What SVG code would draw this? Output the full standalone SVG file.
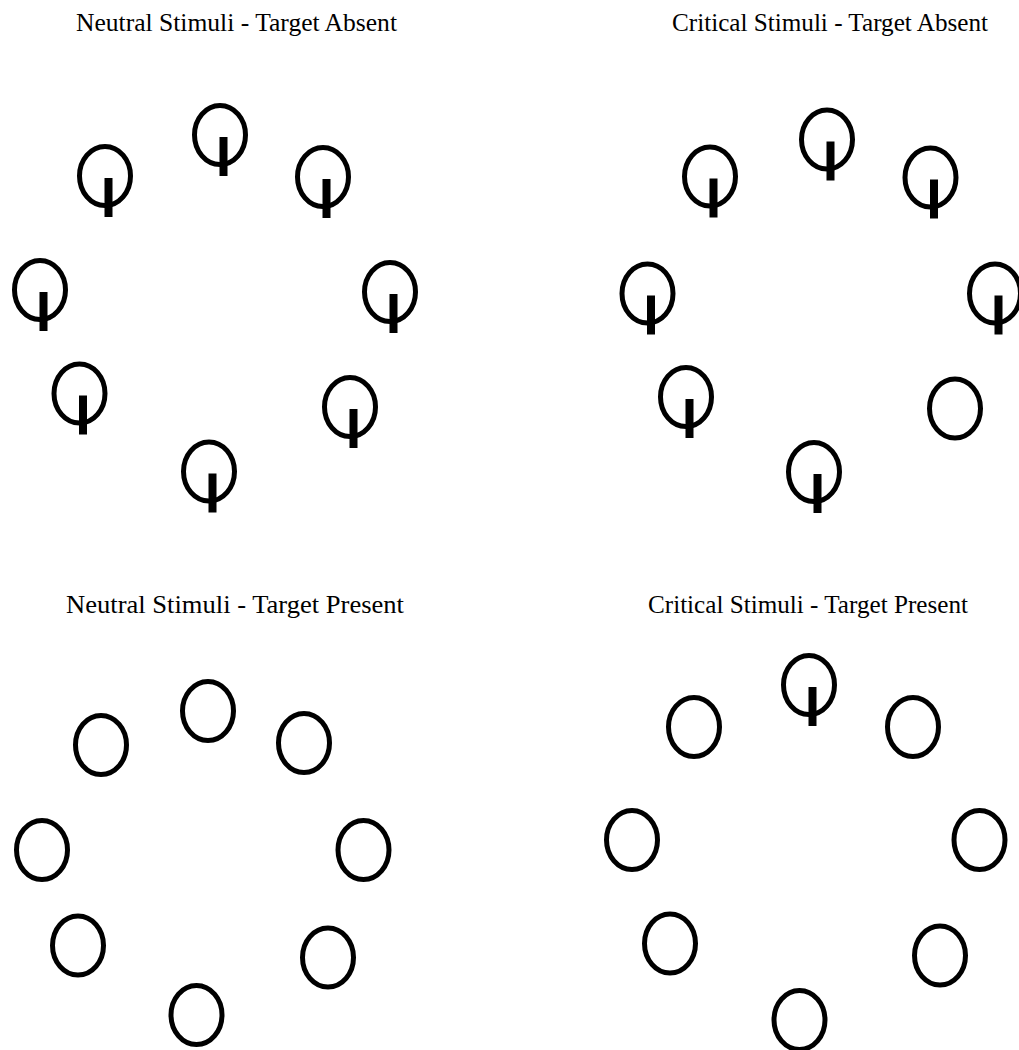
<svg xmlns="http://www.w3.org/2000/svg" width="1019" height="1050" viewBox="0 0 1019 1050">
<defs>
<style>
.t{font-family:"Liberation Serif","Times New Roman",serif;font-size:25px;fill:#000}
.c{fill:none;stroke:#000;stroke-width:5}
.s{fill:#000}
</style>
<g id="ring"><ellipse class="c" cx="0" cy="0" rx="25.5" ry="29.5"/></g>
<g id="probe"><ellipse class="c" cx="0" cy="0" rx="25.5" ry="29.5"/><rect class="s" x="-0.5" y="2" width="8" height="39"/></g>
</defs>
<rect width="1019" height="1050" fill="#fff"/>
<g id="titles">
<text id="title-na" class="t" x="76" y="31" textLength="321" lengthAdjust="spacingAndGlyphs">Neutral Stimuli - Target Absent</text>
<text id="title-ca" class="t" x="672" y="31" textLength="316" lengthAdjust="spacingAndGlyphs">Critical Stimuli - Target Absent</text>
<text id="title-np" class="t" x="66" y="613" textLength="338" lengthAdjust="spacingAndGlyphs">Neutral Stimuli - Target Present</text>
<text id="title-cp" class="t" x="648" y="613" textLength="320" lengthAdjust="spacingAndGlyphs">Critical Stimuli - Target Present</text>
</g>
<g id="panel-neutral-absent">
<use id="na1" href="#probe" x="220" y="135"/>
<use id="na2" href="#probe" x="105" y="176"/>
<use id="na3" href="#probe" x="323" y="177"/>
<use id="na4" href="#probe" x="40" y="290"/>
<use id="na5" href="#probe" x="390" y="292"/>
<use id="na6" href="#probe" x="79.5" y="393.5"/>
<use id="na7" href="#probe" x="350" y="407"/>
<use id="na8" href="#probe" x="209" y="471.5"/>
</g>
<g id="panel-critical-absent">
<use id="ca1" href="#probe" x="827" y="139.5"/>
<use id="ca2" href="#probe" x="710" y="176.5"/>
<use id="ca3" href="#probe" x="930.5" y="177.5"/>
<use id="ca4" href="#probe" x="647.5" y="293.5"/>
<use id="ca5" href="#probe" x="995" y="293.5"/>
<use id="ca6" href="#probe" x="686" y="397"/>
<use id="ca7" href="#ring" x="955" y="408.5"/>
<use id="ca8" href="#probe" x="814" y="472"/>
</g>
<g id="panel-neutral-present">
<use id="np1" href="#ring" x="208" y="711"/>
<use id="np2" href="#ring" x="101" y="745"/>
<use id="np3" href="#ring" x="304" y="743"/>
<use id="np4" href="#ring" x="42" y="850"/>
<use id="np5" href="#ring" x="363.5" y="850"/>
<use id="np6" href="#ring" x="78" y="945.5"/>
<use id="np7" href="#ring" x="328" y="957.5"/>
<use id="np8" href="#ring" x="196.5" y="1015"/>
</g>
<g id="panel-critical-present">
<use id="cp1" href="#probe" x="809" y="685"/>
<use id="cp2" href="#ring" x="694" y="727"/>
<use id="cp3" href="#ring" x="913" y="727"/>
<use id="cp4" href="#ring" x="632" y="840"/>
<use id="cp5" href="#ring" x="979.5" y="840"/>
<use id="cp6" href="#ring" x="670" y="943.5"/>
<use id="cp7" href="#ring" x="940" y="955.5"/>
<use id="cp8" href="#ring" x="799.5" y="1020"/>
</g>
<g id="connectors"/>
</svg>
